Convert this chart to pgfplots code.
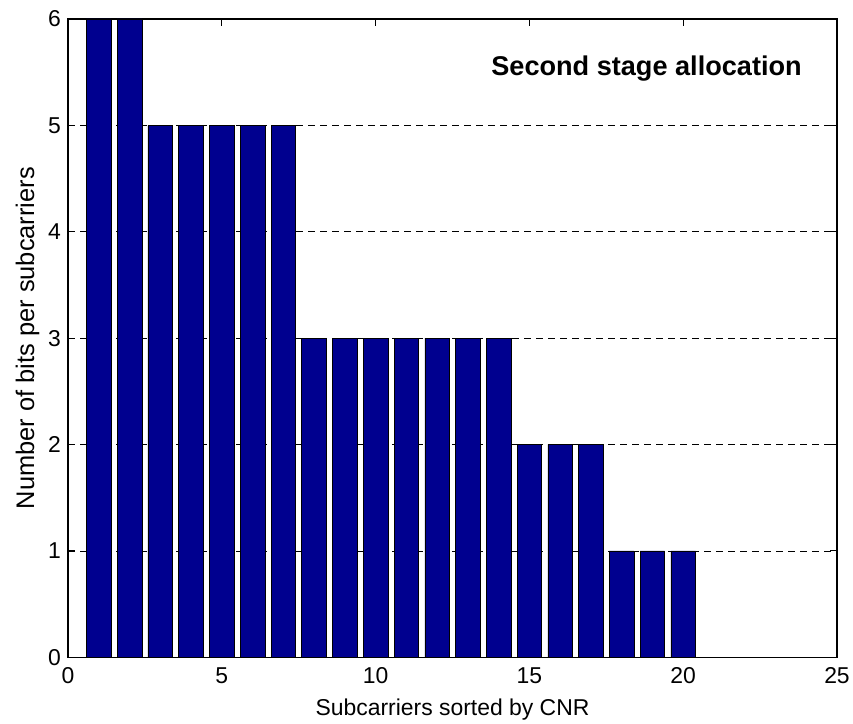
\documentclass[border=0pt]{standalone}
\usepackage{pgfplots}
\pgfplotsset{compat=1.18}
\usepackage{fontspec}
\setmainfont{Liberation Sans}
\usetikzlibrary{calc}
\definecolor{matnavy}{RGB}{0,0,143}
\begin{document}
\begin{tikzpicture}
\begin{axis}[
  scale only axis,
  width=768.7bp, height=638bp,
  xmin=0, xmax=25, ymin=0, ymax=6,
  xtick={0,5,...,25}, ytick={0,1,...,6},
  tick align=inside,
  major tick length=7bp,
  axis line style={line width=1.2bp, black},
  every tick/.style={black, line width=0.8bp},
  ymajorgrids=true,
  major grid style={black, line width=0.6bp, dash pattern=on 7bp off 5bp},
  /pgf/number format/assume math mode=true,
  tick label style={font=\fontsize{23}{25}\selectfont, inner sep=2bp},
  xticklabel style={yshift=-8bp},
  yticklabel style={xshift=-5bp},
  xlabel={Subcarriers sorted by CNR},
  ylabel={Number of bits per subcarriers},
  xlabel style={font=\fontsize{23}{25}\selectfont, at={(axis description cs:0.5,-0.0909)}, anchor=base},
  ylabel style={font=\fontsize{25.5}{27}\selectfont, at={(axis description cs:-0.0442,0.5)}, anchor=base},
  clip=false,
]
\addplot[ybar, bar width=0.8, fill=matnavy, draw=black, line width=0.6bp]
  table[x=x, y=y] {
x y
1 6
2 6
3 5
4 5
5 5
6 5
7 5
8 3
9 3
10 3
11 3
12 3
13 3
14 3
15 2
16 2
17 2
18 1
19 1
20 1
};
\node[anchor=base west, inner sep=0pt, font=\fontsize{27.2}{29}\bfseries\selectfont] at (rel axis cs:0.5503,0.9122) {Second stage allocation};
\coordinate (sw) at (rel axis cs:0,0);
\coordinate (ne) at (rel axis cs:1,1);
\end{axis}
\pgfresetboundingbox
\path ($(sw)+(-68bp,-66bp)$) rectangle ($(ne)+(16bp,19bp)$);
\end{tikzpicture}
\end{document}
